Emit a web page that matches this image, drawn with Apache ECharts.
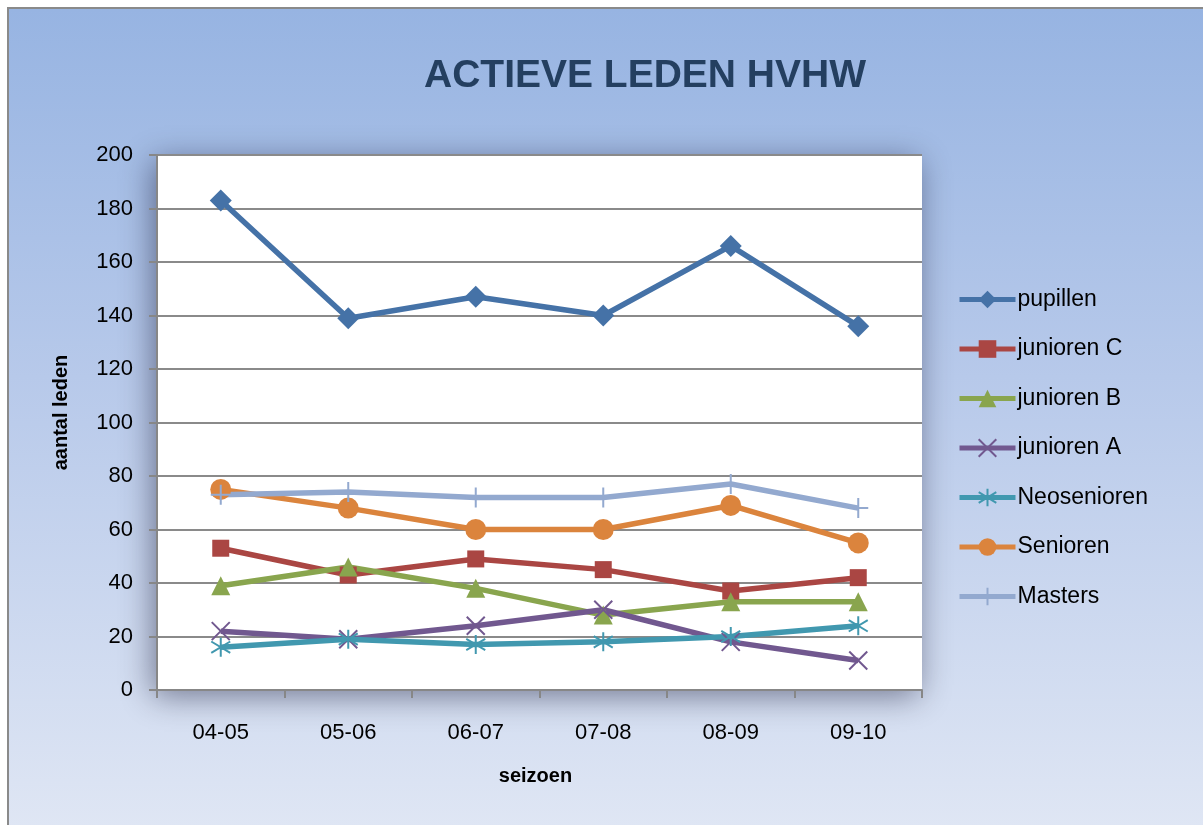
<!DOCTYPE html>
<html>
<head>
<meta charset="utf-8">
<script src="https://cdn.jsdelivr.net/npm/echarts@6/dist/echarts.min.js"></script>
<style>
html,body{margin:0;padding:0;background:#fff;width:1203px;height:825px;overflow:hidden;}
#bg{position:absolute;left:7px;top:7px;width:1196px;height:818px;border-left:2px solid #8a8a8a;border-top:2px solid #8a8a8a;background:linear-gradient(to bottom,#97b4e2 0%,#b7c9ea 45%,#dfe6f4 100%);}
#chart{position:absolute;left:0;top:0;width:1203px;height:825px;}
</style>
</head>
<body>
<div id="bg"></div>
<div id="chart"></div>
<script>
const seasons = ['04-05','05-06','06-07','07-08','08-09','09-10'];
const pupillen = [183,139,147,140,166,136];
const juniorenC = [53,43,49,45,37,42];
const juniorenB = [39,46,38,28,33,33];
const juniorenA = [22,19,24,30,18,11];
const neosenioren = [16,19,17,18,20,24];
const senioren = [75,68,60,60,69,55];
const masters = [73,74,72,72,77,68];

const FONT = '"Liberation Sans", Arial, sans-serif';
function mk(name, data, color, symbol, size, stroke) {
  return {
    name: name, type: 'line', data: data,
    symbol: symbol, symbolSize: size,
    lineStyle: {color: color, width: 5.5},
    itemStyle: stroke ? {color: color, borderColor: color, borderWidth: 2} : {color: color},
    emphasis: {disabled: true}
  };
}
const chart = echarts.init(document.getElementById('chart'), null, {renderer: 'canvas'});
chart.setOption({
  backgroundColor: 'transparent',
  animation: false,
  title: {
    text: 'ACTIEVE LEDEN HVHW', left: 640, top: 52, textAlign: 'center',
    textStyle: {fontFamily: FONT, fontSize: 39, fontWeight: 'bold', color: '#243f60'}
  },
  grid: {
    left: 157, top: 155, width: 765, height: 535,
    show: true, backgroundColor: '#ffffff', borderWidth: 0,
    shadowBlur: 30, shadowColor: 'rgba(0,0,30,0.45)', shadowOffsetX: -4, shadowOffsetY: 6
  },
  legend: {
    orient: 'vertical', left: 952, top: 283,
    itemWidth: 56, itemHeight: 22, itemGap: 26.5,
    lineStyle: {width: 5},
    textStyle: {fontFamily: FONT, fontSize: 23, color: '#000', padding: [0,0,0,-3]},
    data: ['pupillen','junioren C','junioren B','junioren A','Neosenioren','Senioren','Masters']
  },
  xAxis: {
    type: 'category', data: seasons, boundaryGap: true,
    name: 'seizoen', nameLocation: 'middle', nameGap: 76,
    nameTextStyle: {fontFamily: FONT, fontSize: 20, fontWeight: 'bold', color: '#000', padding: [0,8,0,0]},
    axisLine: {lineStyle: {color: '#878787', width: 2}},
    axisTick: {show: true, length: 8, inside: false, lineStyle: {color: '#878787', width: 2}},
    axisLabel: {fontFamily: FONT, fontSize: 22, color: '#000', margin: 32},
    splitLine: {show: false}
  },
  yAxis: {
    type: 'value', min: 0, max: 200, interval: 20,
    name: 'aantal leden', nameLocation: 'middle', nameGap: 86, nameRotate: 90,
    nameTextStyle: {fontFamily: FONT, fontSize: 20, fontWeight: 'bold', color: '#000', padding: [0,0,0,20]},
    axisLine: {show: true, lineStyle: {color: '#878787', width: 2}},
    axisTick: {show: true, length: 8, lineStyle: {color: '#878787', width: 2}},
    axisLabel: {fontFamily: FONT, fontSize: 22, color: '#000', margin: 24},
    splitLine: {show: true, lineStyle: {color: '#8a8a8a', width: 2}}
  },
  series: [
    mk('pupillen', pupillen, '#4572a7', 'diamond', 22),
    mk('junioren C', juniorenC, '#aa4643', 'rect', 17),
    mk('junioren B', juniorenB, '#89a54e', 'triangle', 19),
    mk('junioren A', juniorenA, '#71588f', 'path://M0,0L20,20M20,0L0,20', 18, true),
    mk('Neosenioren', neosenioren, '#4198af', 'path://M10,0L10,20M1,4L19,16M19,4L1,16', 19, true),
    mk('Senioren', senioren, '#db843d', 'circle', 21),
    mk('Masters', masters, '#93a9cf', 'path://M10,0L10,20M0,10L20,10', 20, true)
  ]
});
</script>
</body>
</html>
